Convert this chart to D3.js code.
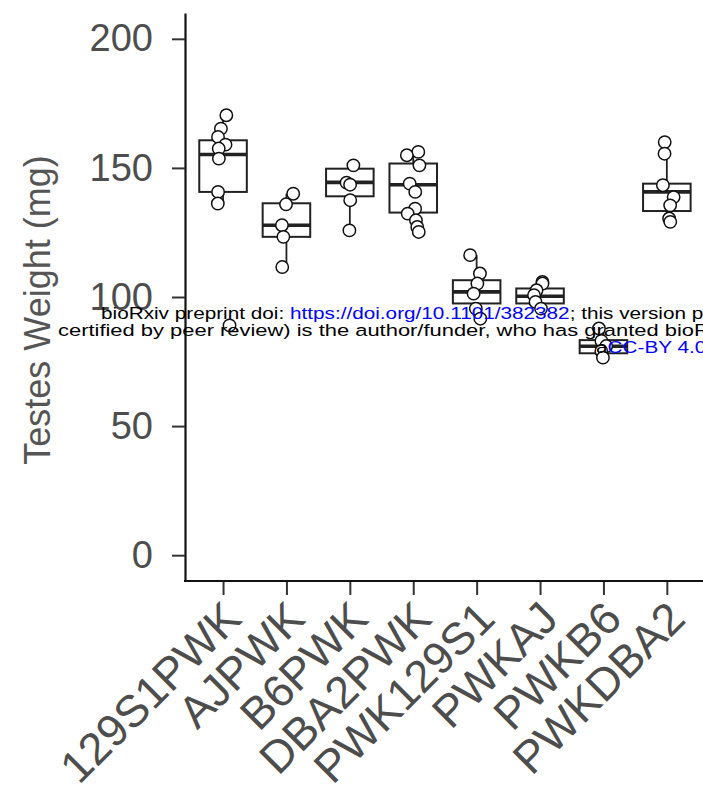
<!DOCTYPE html>
<html>
<head>
<meta charset="utf-8">
<script src="https://cdn.jsdelivr.net/npm/d3@7"></script>
<style>
  html, body { margin: 0; padding: 0; background: #fff; overflow: hidden; }
  svg { display: block; }
</style>
</head>
<body>
<div id="chart"></div>
<script>
// Data
const strains = ["129S1PWK", "AJPWK", "B6PWK", "DBA2PWK", "PWK129S1", "PWKAJ", "PWKB6", "PWKDBA2"];
const q1 = [140.7, 123.3, 139.0, 132.7, 97.5, 97.5, 78.2, 133.3];
const medians = [155.2, 127.8, 144.4, 143.5, 102.0, 100.3, 80.9, 140.7];
const q3 = [160.7, 136.3, 149.7, 151.7, 106.5, 103.3, 83.3, 143.9];
const whiskerLow = [136.2, 111.6, 125.8, 125.2, 91.6, 95.5, 76.5, 129.1];
const whiskerHigh = [170.4, 140.0, 151.0, 156.2, 116.2, 105.8, 87.8, 160.0];
const weights = [
    [170.4, 165.2, 162.0, 159.0, 157.5, 153.6, 140.7, 136.2, 89.0],
    [140.0, 135.9, 127.8, 123.3, 111.6],
    [151.0, 144.3, 143.5, 137.5, 125.8],
    [156.2, 154.9, 151.0, 143.9, 140.7, 134.2, 132.3, 129.7, 127.1, 125.2],
    [116.2, 109.1, 105.2, 101.3, 95.5, 91.6],
    [105.8, 105.2, 102.6, 100.7, 98.1, 95.5],
    [87.8, 83.0, 81.0, 79.0, 76.5],
    [160.0, 155.5, 143.3, 138.7, 135.5, 130.4, 129.1]
];
const yTicks = [0, 50, 100, 150, 200];
const yTitle = "Testes Weight (mg)";

const width = 703;
const height = 787;
const plotLeft = 185;
const plotTop = 13;
const plotBottom = 581;
const step = 63.4;

const svg = d3.select("#chart")
    .append("svg")
    .attr("width", width)
    .attr("height", height);

const y = d3.scaleLinear()
    .domain([-10, 210])
    .range([plotBottom, plotTop]);

const x = d3.scalePoint()
    .domain(strains)
    .range([plotLeft + 0.6 * step, plotLeft + 0.6 * step + (strains.length - 1) * step]);

const font = "Arial, 'Liberation Sans', Helvetica, sans-serif";

// Y axis
const yAxis = svg.append("g")
    .attr("transform", `translate(${plotLeft},0)`)
    .call(d3.axisLeft(y).tickValues(yTicks).tickSize(13).tickSizeOuter(0).tickPadding(19));
yAxis.select(".domain").attr("stroke", "#111").attr("stroke-width", 2.2);
yAxis.selectAll(".tick line").attr("stroke", "#333").attr("stroke-width", 2);
yAxis.selectAll(".tick text")
    .attr("fill", "#4d4d4d")
    .style("font-family", font)
    .style("font-size", "38px");

// X axis
const xAxis = svg.append("g")
    .attr("transform", `translate(0,${plotBottom})`)
    .call(d3.axisBottom(x).tickSize(14).tickSizeOuter(0));
xAxis.select(".domain").remove();
xAxis.append("line")
    .attr("x1", plotLeft - 1)
    .attr("x2", width)
    .attr("stroke", "#111")
    .attr("stroke-width", 2.2);
xAxis.selectAll(".tick line").attr("stroke", "#333").attr("stroke-width", 2);
xAxis.selectAll(".tick text")
    .attr("fill", "#4d4d4d")
    .style("font-family", font)
    .style("font-size", "45px")
    .attr("text-anchor", "end")
    .attr("y", 0)
    .attr("dy", 0)
    .attr("transform", "translate(20,40) rotate(-45)");

// Y title
svg.append("text")
    .attr("transform", "translate(50,310) rotate(-90)")
    .attr("text-anchor", "middle")
    .attr("fill", "#555")
    .style("font-family", font)
    .style("font-size", "36px")
    .text(yTitle);

// Boxes
const boxW = step * 0.75;
const boxes = svg.append("g")
    .selectAll("g")
    .data(strains)
    .join("g")
    .attr("transform", d => `translate(${x(d)},0)`);

boxes.append("line")
    .attr("y1", (d, i) => y(whiskerHigh[i]))
    .attr("y2", (d, i) => y(whiskerLow[i]))
    .attr("stroke", "#222")
    .attr("stroke-width", 1.8);

boxes.append("rect")
    .attr("x", -boxW / 2)
    .attr("width", boxW)
    .attr("y", (d, i) => y(q3[i]))
    .attr("height", (d, i) => y(q1[i]) - y(q3[i]))
    .attr("fill", "#fff")
    .attr("stroke", "#222")
    .attr("stroke-width", 2);

boxes.append("line")
    .attr("x1", -boxW / 2)
    .attr("x2", boxW / 2)
    .attr("y1", (d, i) => y(medians[i]))
    .attr("y2", (d, i) => y(medians[i]))
    .attr("stroke", "#222")
    .attr("stroke-width", 3.6);

// Jittered points
const jitter = d3.randomUniform.source(d3.randomLcg(0.42))(-7, 7);
const pts = [];
strains.forEach((s, i) => weights[i].forEach(v => pts.push({ s, v, dx: jitter() })));

svg.append("g")
    .selectAll("circle")
    .data(pts)
    .join("circle")
    .attr("cx", d => x(d.s) + d.dx)
    .attr("cy", d => y(d.v))
    .attr("r", 6.2)
    .attr("fill", "#fff")
    .attr("stroke", "#111")
    .attr("stroke-width", 1.5);

// bioRxiv watermark
const wm = svg.append("g")
    .style("font-family", font)
    .style("font-size", "17px");

const line1 = wm.append("text").attr("transform", "translate(101,319) scale(1.22,1)");
line1.append("tspan").attr("fill", "#000").text("bioRxiv preprint doi: ");
line1.append("tspan").attr("fill", "#0000ff").text("https://doi.org/10.1101/382382");
line1.append("tspan").attr("fill", "#000").text("; this version posted August 1, 2018. The copyright holder for this preprint");

wm.append("text")
    .attr("transform", "translate(58,336) scale(1.29,1)")
    .attr("fill", "#000")
    .text("certified by peer review) is the author/funder, who has granted bioRxiv a license to display the preprint");

const line3 = wm.append("text").attr("transform", "translate(596,353) scale(1.22,1)");
line3.append("tspan").attr("fill", "#000").text("a");
line3.append("tspan").attr("fill", "#0000ff").text("CC-BY 4.0 International license");
</script>
</body>
</html>
